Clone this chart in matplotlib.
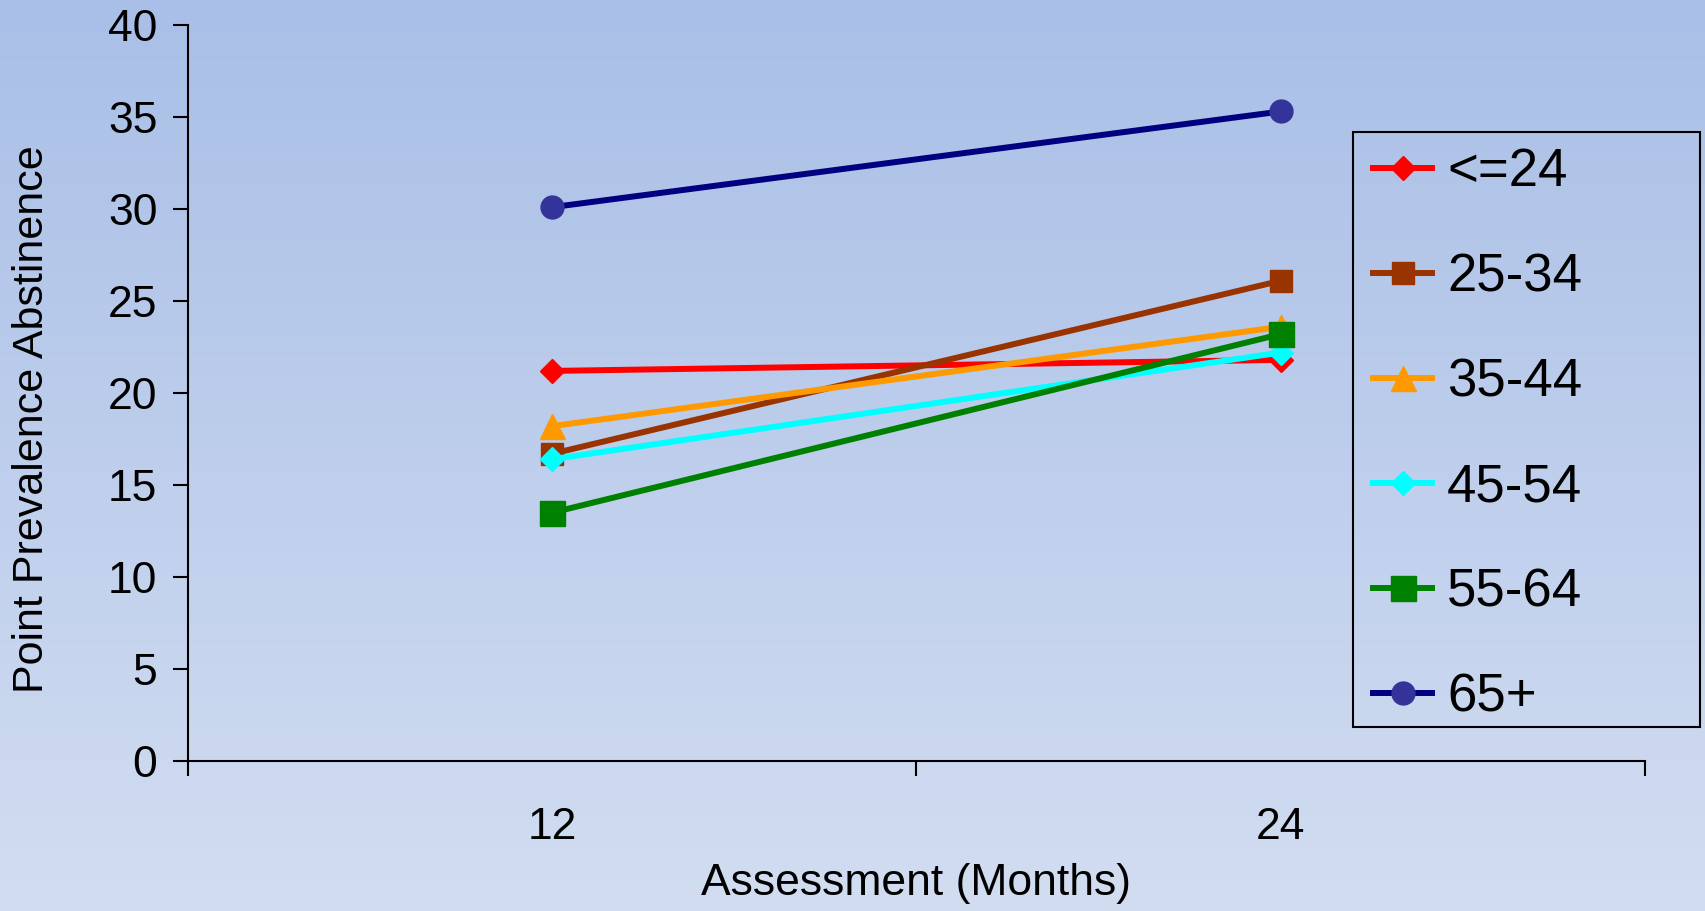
import numpy as np
import matplotlib
matplotlib.use("Agg")
import matplotlib.pyplot as plt
from matplotlib.colors import LinearSegmentedColormap
from matplotlib.patches import Rectangle

plt.rcParams['font.family'] = ['Liberation Sans', 'DejaVu Sans']

# Assessment points (months) and abstinence rates per age group
assessments = ["12", "24"]
groups = ["<=24", "25-34", "35-44", "45-54", "55-64", "65+"]
age_le24 = [21.2, 21.8]
age_25_34 = [16.7, 26.1]
age_35_44 = [18.2, 23.6]
age_45_54 = [16.4, 22.2]
age_55_64 = [13.5, 23.2]
age_65_plus = [30.1, 35.3]

series = [age_le24, age_25_34, age_35_44, age_45_54, age_55_64, age_65_plus]
line_colors = ["#FF0000", "#993300", "#FF9900", "#00FFFF", "#008000", "#000080"]
marker_colors = ["#FF0000", "#993300", "#FF9900", "#00FFFF", "#008000", "#333399"]
markers = ["D", "s", "^", "D", "s", "o"]
msizes = [12.5, 16.5, 18, 12.5, 18, 16.5]

W, H = 1706, 911
fig = plt.figure(figsize=(W / 100, H / 100), dpi=100)

# Vertical gradient background covering the whole figure
bg = fig.add_axes([0, 0, 1, 1], zorder=-10)
cmap = LinearSegmentedColormap.from_list("bg", ["#A9BFE7", "#D2DDF1"])
grad = np.linspace(0, 1, 256).reshape(-1, 1)
bg.imshow(grad, aspect="auto", cmap=cmap, extent=[0, 1, 0, 1], origin="upper")
bg.axis("off")

ax = fig.add_axes([188 / W, 1 - 761 / H, (1645 - 188) / W, (761 - 25) / H])
ax.patch.set_alpha(0)

xpos = np.arange(len(assessments)) + 0.5
for vals, lab, lc, mc, mk, ms in zip(series, groups, line_colors, marker_colors, markers, msizes):
    ax.plot(xpos, vals, color=lc, lw=4.3, marker=mk, ms=ms,
            markerfacecolor=mc, markeredgecolor=mc, label=lab, clip_on=False)

ax.set_xlim(0, len(assessments))
ax.set_ylim(0, 40)
ax.set_yticks(np.arange(0, 41, 5))
ax.set_xticks(np.arange(0, len(assessments) + 1))
ax.set_xticklabels([])
ax.set_xticks(xpos, minor=True)
ax.set_xticklabels(assessments, minor=True)

for s in ["top", "right"]:
    ax.spines[s].set_visible(False)
for s in ["left", "bottom"]:
    ax.spines[s].set_linewidth(1.5)
    ax.spines[s].set_color("black")

ax.tick_params(axis="y", which="major", length=11, width=1.5, pad=11, labelsize=32)
ax.tick_params(axis="x", which="major", length=11, width=1.5)
ax.tick_params(axis="x", which="minor", length=0, pad=33, labelsize=32)

ax.set_xlabel("Assessment (Months)", fontsize=32)
ax.xaxis.set_label_coords(0.5, -0.138)
ax.set_ylabel("Point Prevalence Abstinence", fontsize=31)
ax.yaxis.set_label_coords(-0.093, 0.464)

# Legend entries without their own frame; the box is drawn separately
leg = fig.legend(loc="upper left",
                 bbox_to_anchor=(1373 / W, 1 - 147 / H),
                 borderaxespad=0, fontsize=38, frameon=False,
                 handlelength=1.12, handletextpad=0.28, labelspacing=1.045,
                 borderpad=0, numpoints=1)
fig.add_artist(Rectangle((1353 / W, 1 - 727 / H), (1700 - 1353) / W, (727 - 132) / H,
                         transform=fig.transFigure, facecolor="none",
                         edgecolor="black", linewidth=1.5))

fig.savefig("out.png", dpi=100)
